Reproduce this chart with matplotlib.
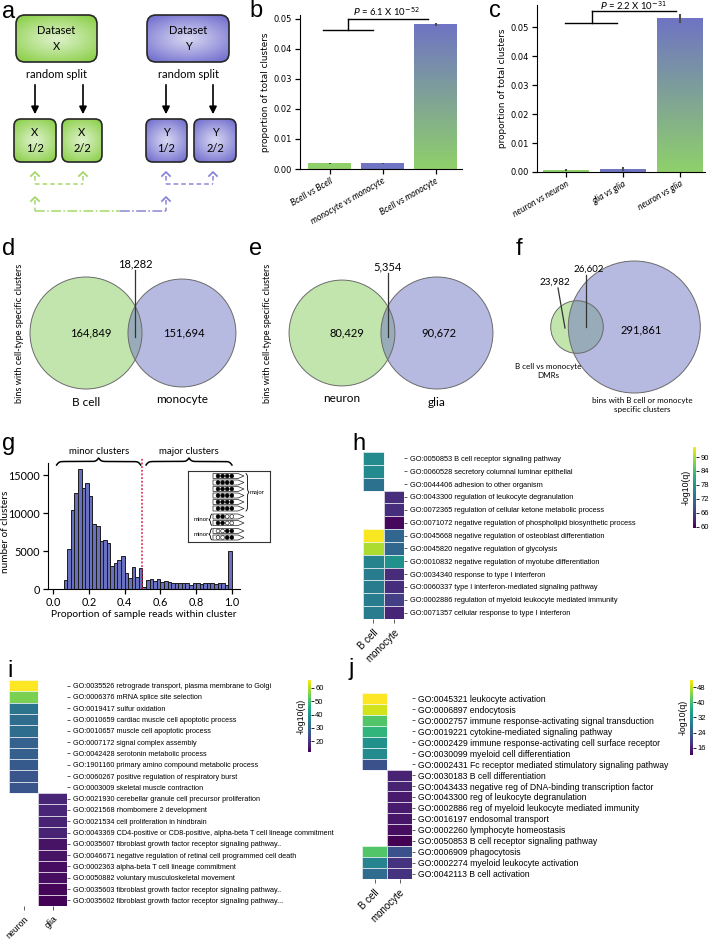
import numpy as np
import matplotlib
matplotlib.use("Agg")
import matplotlib.pyplot as plt
import matplotlib.colors as mcolors
from matplotlib.cm import ScalarMappable
from matplotlib.patches import Circle, FancyBboxPatch, Polygon

W, H = 709, 940
nan = np.nan

GREEN = "#8fd06b"
PURPLE = "#6f74c3"
HIST_BLUE = "#6970bf"
A_GREEN = "#8fd14f"
A_PURPLE = "#7774d0"
DASH_GREEN = "#a5d86a"
DASH_PURPLE = "#8a86d6"
SANS = "Liberation Sans"
SOFT = "Lato"

# ---------------- data ----------------
b_labels = ["Bcell vs Bcell", "monocyte vs monocyte", "Bcell vs monocyte"]
b_vals = [0.0019, 0.0019, 0.0482]
b_err = [0.0002, 0.0002, 0.0006]
b_ptext = r"$P$ = 6.1 X 10$^{-52}$"

c_labels = ["neuron vs neuron", "glia vs glia", "neuron vs glia"]
c_vals = [0.0008, 0.0011, 0.0530]
c_err = [0.0004, 0.0006, 0.0015]
c_ptext = r"$P$ = 2.2 X 10$^{-31}$"

venn_d_names = ["B cell", "monocyte"]
venn_d_counts = [164849, 151694, 18282]   # only A, only B, shared
venn_e_names = ["neuron", "glia"]
venn_e_counts = [80429, 90672, 5354]
venn_f_names = ["B cell vs monocyte\nDMRs", "bins with B cell or monocyte\nspecific clusters"]
venn_f_counts = [23982, 291861, 26602]

hist_counts = [0, 0, 0, 1200, 5200, 10400, 12600, 15750, 13300, 14000,
               12200, 8500, 8300, 6300, 6500, 6000, 3000, 3400, 3800, 4300,
               2100, 1400, 2900, 1600, 2800, 300, 1200, 1300, 1100, 1300,
               900, 1100, 950, 800, 750, 750, 750, 800, 550, 750,
               750, 650, 750, 750, 800, 600, 750, 800, 550, 5000]
inset_reads = ["1111"] * 6 + ["1100"] * 2 + ["0011"] * 2

h_terms = ["GO:0050853 B cell receptor signaling pathway",
           "GO:0060528 secretory columnal luminar epithelial",
           "GO:0044406 adhesion to other organism",
           "GO:0043300 regulation of leukocyte degranulation",
           "GO:0072365 regulation of cellular ketone metabolic process",
           "GO:0071072 negative regulation of phospholipid biosynthetic process",
           "GO:0045668 negative regulation of osteoblast differentiation",
           "GO:0045820 negative regulation of glycolysis",
           "GO:0010832 negative regulation of myotube differentiation",
           "GO:0034340 response to type I interferon",
           "GO:0060337 type I interferon-mediated signaling pathway",
           "GO:0002886 regulation of myeloid leukocyte mediated immunity",
           "GO:0071357 cellular response to type I interferon"]
h_bcell = [76, 76, 72.5, nan, nan, nan, 94, 90, 75, 74, 74, 74, 74]
h_mono = [nan, nan, nan, 64, 64, 60.2, 71, 71, 77, 63.8, 64, 65.8, 63.2]

i_terms = ["GO:0035526 retrograde transport, plasma membrane to Golgi",
           "GO:0006376 mRNA splice site selection",
           "GO:0019417 sulfur oxidation",
           "GO:0010659 cardiac muscle cell apoptotic process",
           "GO:0010657 muscle cell apoptotic process",
           "GO:0007172 signal complex assembly",
           "GO:0042428 serotonin metabolic process",
           "GO:1901160 primary amino compound metabolic process",
           "GO:0060267 positive regulation of respiratory burst",
           "GO:0003009 skeletal muscle contraction",
           "GO:0021930 cerebellar granule cell precursor proliferation",
           "GO:0021568 rhombomere 2 development",
           "GO:0021534 cell proliferation in hindbrain",
           "GO:0043369 CD4-positive or CD8-positive, alpha-beta T cell lineage commitment",
           "GO:0035607 fibroblast growth factor receptor signaling pathway..",
           "GO:0046671 negative regulation of retinal cell programmed cell death",
           "GO:0002363 alpha-beta T cell lineage commitment",
           "GO:0050882 voluntary musculoskeletal movement",
           "GO:0035603 fibroblast growth factor receptor signaling pathway..",
           "GO:0035602 fibroblast growth factor receptor signaling pathway..."]
i_neuron = [66, 55, 32.5, 31, 31, 28.5, 28, 27, 26, 26] + [nan] * 10
i_glia = [nan] * 10 + [17.5, 17.5, 17, 17, 14.5, 14.5, 13.5, 13.5, 12.5, 12.2]

j_terms = ["GO:0045321 leukocyte activation",
           "GO:0006897 endocytosis",
           "GO:0002757 immune response-activating signal transduction",
           "GO:0019221 cytokine-mediated signaling pathway",
           "GO:0002429 immune response-activating cell surface receptor",
           "GO:0030099 myeloid cell differentiation",
           "GO:0002431 Fc receptor mediated stimulatory signaling pathway",
           "GO:0030183 B cell differentiation",
           "GO:0043433 negative reg of DNA-binding transcription factor",
           "GO:0043300 reg of leukocyte degranulation",
           "GO:0002886 reg of myeloid leukocyte mediated immunity",
           "GO:0016197 endosomal transport",
           "GO:0002260 lymphocyte homeostasis",
           "GO:0050853 B cell receptor signaling pathway",
           "GO:0006909 phagocytosis",
           "GO:0002274 myeloid leukocyte activation",
           "GO:0042113 B cell activation"]
j_bcell = [52, 49, 41, 38, 32, 31, 22] + [nan] * 7 + [41, 30, 26]
j_mono = [nan] * 7 + [16, 16, 15, 15, 14.5, 13.5, 12] + [22, 18, 18]

fig = plt.figure(figsize=(W / 100, H / 100), dpi=100)


def px_axes(x0, y0, x1, y1):
    return fig.add_axes([x0 / W, 1 - y1 / H, (x1 - x0) / W, (y1 - y0) / H])


ov = px_axes(0, 0, W, H)
ov.set_axis_off()

# ---------------- a: split diagram ----------------
def grad_box(x0, y0, x1, y1, col, rad, label):
    box = FancyBboxPatch((x0, y0), x1 - x0, y1 - y0,
                         boxstyle=f"round,pad=0,rounding_size={rad}",
                         fc="none", ec="#262626", lw=1.2, zorder=3)
    ov.add_patch(box)
    yy, xx = np.mgrid[-1:1:80j, -1:1:80j]
    r = np.clip(np.hypot(xx * 0.85, yy) / 1.15, 0, 1) ** 1.1
    edge = np.array(mcolors.to_rgb(col))
    centre = 0.3 * edge + 0.7
    img = centre * (1 - r[..., None]) + edge * r[..., None]
    im = ov.imshow(img, extent=(x0, x1, y1, y0), aspect="auto", zorder=2,
                   interpolation="bilinear")
    im.set_clip_path(box)
    ov.text((x0 + x1) / 2, (y0 + y1) / 2, label, ha="center", va="center",
            fontsize=8, family=SOFT, linespacing=1.5, zorder=4)


grad_box(16, 15, 97, 62, A_GREEN, 9, "Dataset\nX")
grad_box(147, 15, 229, 62, A_PURPLE, 9, "Dataset\nY")
for (x0, x1), lab in zip([(14, 56), (62, 102)], ["X\n1/2", "X\n2/2"]):
    grad_box(x0, 119, x1, 162, A_GREEN, 7, lab)
for (x0, x1), lab in zip([(146, 187), (194, 236)], ["Y\n1/2", "Y\n2/2"]):
    grad_box(x0, 119, x1, 162, A_PURPLE, 7, lab)
for cx in (57, 188):
    ov.text(cx, 74, "random split", ha="center", va="center", fontsize=8, family=SOFT)
for ax_x in (35, 83, 166, 213):
    ov.annotate("", xy=(ax_x, 117), xytext=(ax_x, 82),
                arrowprops=dict(arrowstyle="-|>", color="black", lw=1.2, mutation_scale=11))


def chevron(x, y, col):
    ov.plot([x - 4, x, x + 4], [y + 4, y, y + 4], color=col, lw=1.3)


dash = (0, (3, 2))
for xa, xb, col in [(35, 83, DASH_GREEN), (166, 213, DASH_PURPLE)]:
    for xx_ in (xa, xb):
        chevron(xx_, 172, col)
        ov.plot([xx_, xx_], [176, 184], color=col, lw=1.1, ls=dash)
    ov.plot([xa, xb], [184, 184], color=col, lw=1.1, ls=dash)
chevron(35, 197, DASH_GREEN)
chevron(166, 197, DASH_PURPLE)
ov.plot([35, 35], [200, 211], color=DASH_GREEN, lw=1.1, ls=dash)
ov.plot([166, 166], [200, 211], color=DASH_PURPLE, lw=1.1, ls=dash)
ov.plot([35, 120], [211, 211], color=DASH_GREEN, lw=1.1, ls="-.")
ov.plot([120, 166], [211, 211], color=DASH_PURPLE, lw=1.1, ls="-.")


# ---------------- b, c: bar charts ----------------
def bar_panel(ax, labels, vals, errs, ylim, xlim, ptext, low, mid, top_end, ptxt_xy):
    x = np.arange(len(vals))
    bars = ax.bar(x, vals, width=0.8, color=[GREEN, PURPLE, "none"], edgecolor="none", zorder=2)
    t = np.linspace(0, 1, 100)[:, None]
    grad = (1 - t) * np.array(mcolors.to_rgb(PURPLE)) + t * np.array(mcolors.to_rgb(GREEN))
    im = ax.imshow(grad[:, None, :], extent=(x[2] - 0.4, x[2] + 0.4, 0, vals[2]),
                   aspect="auto", origin="upper", zorder=2)
    im.set_clip_path(bars[2])
    ax.errorbar(x, vals, yerr=errs, fmt="none", ecolor="#4d4d4d", elinewidth=1.5, zorder=3)
    ax.set_xlim(*xlim)
    ax.set_ylim(*ylim)
    ax.set_yticks([0, 0.01, 0.02, 0.03, 0.04, 0.05])
    ax.set_yticklabels(["0.00", "0.01", "0.02", "0.03", "0.04", "0.05"], fontsize=6)
    ax.set_xticks(x)
    ax.set_xticklabels(labels, rotation=30, ha="right", rotation_mode="anchor",
                       fontsize=6.3, family=SOFT, style="italic")
    ax.set_ylabel("proportion of total clusters", fontsize=6.4, labelpad=3)
    for s in ("top", "right"):
        ax.spines[s].set_visible(False)
    ax.tick_params(length=3.5, width=0.9, pad=2)
    # significance bracket
    (lx0, lx1, ly), (mx, my) = low, mid
    ax.plot([lx0, lx1], [ly, ly], color="black", lw=1.0, clip_on=False)
    ax.plot([mx, mx], [ly, my], color="black", lw=1.0, clip_on=False)
    ax.plot([mx, top_end], [my, my], color="black", lw=1.0, clip_on=False)
    ax.text(ptxt_xy[0], ptxt_xy[1], ptext, ha="center", va="center", fontsize=6.8, family=SOFT)


axb = px_axes(300, 15, 462, 169)
bar_panel(axb, b_labels, b_vals, b_err, (0, 0.0513), (-0.56, 2.5), b_ptext,
          (-0.12, 0.82, 0.0463), (0.35, 0.0500), 1.86, (1.08, 0.0525))
axc = px_axes(537, 5, 705, 172)
bar_panel(axc, c_labels, c_vals, c_err, (0, 0.0576), (-0.51, 2.44), c_ptext,
          (-0.02, 0.89, 0.0514), (0.46, 0.0555), 1.93, (1.18, 0.0574))


# ---------------- d, e, f: Venn diagrams ----------------
def venn2(counts, cx, cy, rmax, overlap):
    only_a, only_b, both = counts
    tot_a, tot_b = only_a + both, only_b + both
    big = max(tot_a, tot_b)
    ra = rmax * np.sqrt(tot_a / big)
    rb = rmax * np.sqrt(tot_b / big)
    cxb = cx + ra + rb - overlap
    ov.add_patch(Circle((cx, cy), ra, fc=GREEN, alpha=0.55, ec="none", zorder=2))
    ov.add_patch(Circle((cxb, cy), rb, fc=PURPLE, alpha=0.5, ec="none", zorder=2))
    for c, r in ((cx, ra), (cxb, rb)):
        ov.add_patch(Circle((c, cy), r, fc="none", ec="#6b6b6b", lw=0.7, zorder=3))
    xo = (cx + ra + cxb - rb) / 2
    return ra, rb, cxb, xo


def fmt(n):
    return f"{n:,}"


for cx, names, counts, ylab_x in [(86, venn_d_names, venn_d_counts, 20),
                                  (342, venn_e_names, venn_e_counts, 268)]:
    cy = 333
    ra, rb, cxb, xo = venn2(counts, cx, cy, 56, 14)
    ov.text(cx + 5, cy, fmt(counts[0]), ha="center", va="center", fontsize=8, family=SOFT, zorder=4)
    ov.text(cxb + 2, cy, fmt(counts[1]), ha="center", va="center", fontsize=8, family=SOFT, zorder=4)
    ov.text(xo, cy - ra - 8, fmt(counts[2]), ha="center", va="bottom", fontsize=8, family=SOFT, zorder=4)
    ov.plot([xo, xo], [cy - ra - 7, cy + 4], color="#333333", lw=0.9, zorder=4)
    ov.text(cx, cy + ra + 13, names[0], ha="center", va="center", fontsize=8.5, family=SOFT)
    ov.text(cxb, cy + rb + 13, names[1], ha="center", va="center", fontsize=8.5, family=SOFT)
    ov.text(ylab_x, cy, "bins with cell-type specific clusters", rotation=90,
            ha="center", va="center", fontsize=6.6, family=SOFT)

cx, cy = 577, 327
ra, rb, cxb, xo = venn2(venn_f_counts, cx, cy, 66, 35)
ov.text(cx - 22, cy - 45, fmt(venn_f_counts[0]), ha="center", va="center", fontsize=7, family=SOFT, zorder=4)
ov.plot([cx - 19, cx - 12], [cy - 39, cy + 1], color="#333333", lw=0.9, zorder=4)
ov.text(xo + 3, cy - 58, fmt(venn_f_counts[2]), ha="center", va="center", fontsize=7, family=SOFT, zorder=4)
ov.plot([xo, xo], [cy - 52, cy], color="#333333", lw=0.9, zorder=4)
ov.text(cxb + 7, cy + 3, fmt(venn_f_counts[1]), ha="center", va="center", fontsize=8, family=SOFT, zorder=4)
ov.text(cx - 29, cy + 44, venn_f_names[0], ha="center", va="center", fontsize=5.8,
        family=SOFT, linespacing=1.4, zorder=4)
ov.text(cxb + 8, cy + 78, venn_f_names[1], ha="center", va="center", fontsize=5.8,
        family=SOFT, linespacing=1.4, zorder=4)

# ---------------- g: histogram ----------------
axg = px_axes(48, 463, 240, 589)
axg.patch.set_alpha(0)
edges = np.linspace(0, 1, len(hist_counts) + 1)
axg.bar(edges[:-1], hist_counts, width=np.diff(edges), align="edge",
        color=HIST_BLUE, edgecolor="#1c1c1c", lw=0.7)
axg.set_xlim(-0.028, 1.045)
axg.set_ylim(0, 16580)
axg.set_xticks([0, 0.2, 0.4, 0.6, 0.8, 1.0])
axg.set_xticklabels(["0.0", "0.2", "0.4", "0.6", "0.8", "1.0"])
axg.set_yticks([0, 5000, 10000, 15000])
axg.tick_params(labelsize=7.8, length=3.5, width=0.9, pad=2)
for lab in axg.get_xticklabels() + axg.get_yticklabels():
    lab.set_family(SOFT)
for s in ("top", "right"):
    axg.spines[s].set_visible(False)
axg.set_xlabel("Proportion of sample reads within cluster", fontsize=7.4, family=SOFT, labelpad=2)
axg.set_ylabel("number of clusters", fontsize=7.2, family=SOFT)
axg.yaxis.set_label_coords(-0.2, 0.45)
axg.plot([0.5, 0.5], [0, 17370], color="#d6204a", ls=(0, (1.2, 1.2)), lw=1.1,
         clip_on=False, zorder=3)


def brace_shape(length, height, beta, n=80):
    half = length / 2
    s = np.linspace(0, half, n)
    v = 1 / (1 + np.exp(-beta * s)) + 1 / (1 + np.exp(-beta * (s - half)))
    v = np.concatenate([v, v[-2::-1]]) - 0.5
    u = np.linspace(0, length, 2 * n - 1)
    return u, v * height


def gx(x):
    return 48 + (x + 0.028) / 1.073 * 192


for x0, x1, lab in [(0.02, 0.49, "minor clusters"), (0.52, 1.0, "major clusters")]:
    u, v = brace_shape(gx(x1) - gx(x0), 7, 0.8)
    ov.plot(gx(x0) + u, 465 - v, color="black", lw=1.1)
    ov.text((gx(x0) + gx(x1)) / 2, 451, lab, ha="center", va="center", fontsize=7, family=SOFT)

# inset schematic of reads
axin = px_axes(188, 471, 270, 542)
axin.set_xlim(0, 82)
axin.set_ylim(71, 0)
axin.set_xticks([])
axin.set_yticks([])
for s in axin.spines.values():
    s.set_linewidth(0.8)
    s.set_color("#333333")
ys = []
y = 5.0
for k in range(len(inset_reads)):
    ys.append(y)
    y += 8.0 if k in (5, 7) else 6.5
for yc, pat in zip(ys, inset_reads):
    axin.add_patch(Polygon([(25, yc - 2.5), (50, yc - 2.5), (56, yc), (50, yc + 2.5), (25, yc + 2.5)],
                           closed=True, fc="white", ec="#222222", lw=0.5))
    for k, ch in enumerate(pat):
        axin.add_patch(Circle((30 + 4.6 * k, yc), 1.9, fc="black" if ch == "1" else "white",
                              ec="black", lw=0.4))
u, v = brace_shape(ys[5] - ys[0] + 5, 3, 1.2)
axin.plot(58 + v, ys[0] - 2.5 + u, color="black", lw=0.6)
axin.text(62, (ys[0] + ys[5]) / 2, "major", fontsize=4.3, va="center", family=SOFT)
for a, b in ((6, 7), (8, 9)):
    u, v = brace_shape(ys[b] - ys[a] + 5, 3, 1.5)
    axin.plot(24 - v, ys[a] - 2.5 + u, color="black", lw=0.6)
    axin.text(20.5, (ys[a] + ys[b]) / 2, "minor", fontsize=4.3, va="center", ha="right", family=SOFT)


# ---------------- h, i, j: GO heatmaps ----------------
def heat(box, cols, terms, names, vmin, vmax, fs, fs_x=7):
    ax = px_axes(*box)
    data = np.ma.masked_invalid(np.column_stack(cols).astype(float))
    ax.pcolormesh(data, cmap="viridis", vmin=vmin, vmax=vmax,
                  edgecolors=(1, 1, 1, 0.75), linewidth=0.6)
    ax.set_xlim(0, data.shape[1])
    ax.set_ylim(data.shape[0], 0)
    ax.yaxis.tick_right()
    ax.set_yticks(np.arange(len(terms)) + 0.5)
    ax.set_yticklabels(terms, fontsize=fs, family=SANS)
    ax.set_xticks(np.arange(len(names)) + 0.5)
    ax.set_xticklabels(names, rotation=45, ha="right", rotation_mode="anchor",
                       fontsize=fs_x, family=SANS)
    for s in ax.spines.values():
        s.set_visible(False)
    ax.tick_params(axis="y", length=2.5, width=0.6, pad=1.5, color="#444444")
    ax.tick_params(axis="x", length=3, width=0.6, pad=3, color="#444444")
    return ax


def cbar(box, vmin, vmax, ticks):
    cax = px_axes(*box)
    sm = ScalarMappable(norm=mcolors.Normalize(vmin, vmax), cmap="viridis")
    cb = fig.colorbar(sm, cax=cax, ticks=ticks)
    cb.outline.set_visible(False)
    cax.tick_params(labelsize=5.5, length=2, width=0.6, pad=1)
    for lab in cax.get_yticklabels():
        lab.set_family(SANS)
    cax.yaxis.set_label_position("left")
    cax.set_ylabel("-log10(q)", fontsize=6.3, family=SANS, labelpad=1.5)


heat((363, 452, 404, 619), [h_bcell, h_mono], h_terms, ["B cell", "monocyte"], 59.5, 94.3, 5.3)
cbar((693, 447, 696, 528), 59.5, 94.3, [60, 66, 72, 78, 84, 90])

heat((9, 680, 67, 906), [i_neuron, i_glia], i_terms, ["neuron", "glia"], 11.8, 66, 5.2, fs_x=6.3)
cbar((308, 680, 311, 752), 11.8, 66, [20, 30, 40, 50, 60])

heat((362, 693, 412, 879), [j_bcell, j_mono], j_terms, ["B cell", "monocyte"], 12.2, 51.7, 6.2)
cbar((690, 680, 693, 755), 12.2, 51.7, [16, 24, 32, 40, 48])

# ---------------- panel letters ----------------
for lab, x, y in [("a", 2, 18), ("b", 249, 17), ("c", 489, 17), ("d", 2, 255),
                  ("e", 249, 255), ("f", 516, 255), ("g", 2, 450), ("h", 352, 450),
                  ("i", 7, 677), ("j", 349, 675)]:
    ov.text(x, y, lab, fontsize=17, family=SANS, va="baseline", ha="left")

ov.set_xlim(0, W)
ov.set_ylim(H, 0)

fig.savefig("out.png", dpi=100)
